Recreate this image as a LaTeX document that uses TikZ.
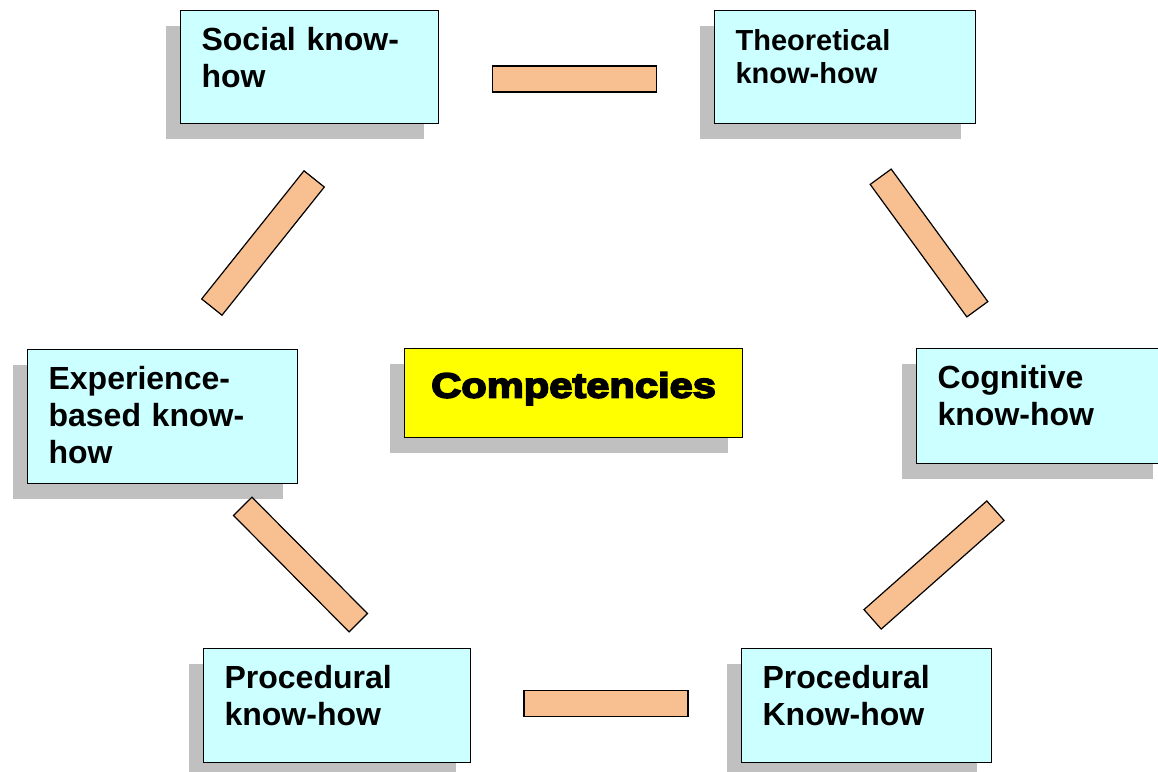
\documentclass[tikz,border=0pt]{standalone}
\usepackage{fontspec}
\setmainfont{Liberation Sans}
\newfontfamily\heavyfont{Liberation Sans Bold}[FakeBold=5,FakeStretch=1.19]
\usetikzlibrary{shadows}
\definecolor{cpCyan}{HTML}{CCFFFF}
\definecolor{cpYellow}{HTML}{FFFF00}
\definecolor{cpTan}{HTML}{F8C090}
\definecolor{cpShade}{HTML}{C0C0C0}

\begin{document}
\begin{tikzpicture}[
    x=1pt, y=-1pt,
    boxed/.style={draw=black, line width=1.2pt, anchor=north west, inner ysep=0pt,
                  drop shadow={shadow xshift=-15pt, shadow yshift=-15pt, fill=cpShade, opacity=1}},
    skill/.style 2 args={boxed, fill=cpCyan, inner xsep=21pt, align=left,
                 text width=#1, text height=40pt, text depth=#2,
                 font=\fontsize{32}{37}\selectfont\bfseries},
    core/.style={boxed, fill=cpYellow, inner xsep=0pt, align=center, text width=338pt,
                 text height=49pt, text depth=40pt, font=\heavyfont\fontsize{35}{40}\selectfont},
    link/.style={draw=black, line width=1.2pt, fill=cpTan, inner sep=0pt,
                 minimum width=164pt, minimum height=26pt},
  ]
  \useasboundingbox (0,0) rectangle (1158,771);

  % the six kinds of know-how round the centre
  \node[skill={216pt}{73pt}] (social) at (180,10)  {Social know-\\how};
  \node[skill={219pt}{73pt}, font=\fontsize{29}{33}\selectfont\bfseries]
        (theory) at (714,10) {Theoretical\\know-how};
  \node[skill={228pt}{94pt}] (exper)  at (27,349)  {Experience-\\based know-\\how};
  \node[skill={209pt}{75pt}] (cogn)   at (916,348) {Cognitive\\know-how};
  \node[skill={225pt}{74pt}] (procl)  at (203,648) {Procedural\\know-how};
  \node[skill={208pt}{74pt}] (procr)  at (741,648) {Procedural\\Know-how};

  \node[core] (comp) at (404,348) {Competencies};

  % bars joining neighbours
  \node[link]              (social-theory) at (574.5,79)   {};
  \node[link, rotate=-53.9] (theory-cogn)  at (929,243)    {};
  \node[link, rotate=41.5]  (cogn-procr)   at (934,565)    {};
  \node[link]              (procr-procl)   at (606,703.5)  {};
  \node[link, rotate=-45.2] (procl-exper)  at (300.5,564.5) {};
  \node[link, rotate=51.4]  (exper-social) at (263,243)    {};
\end{tikzpicture}
\end{document}
